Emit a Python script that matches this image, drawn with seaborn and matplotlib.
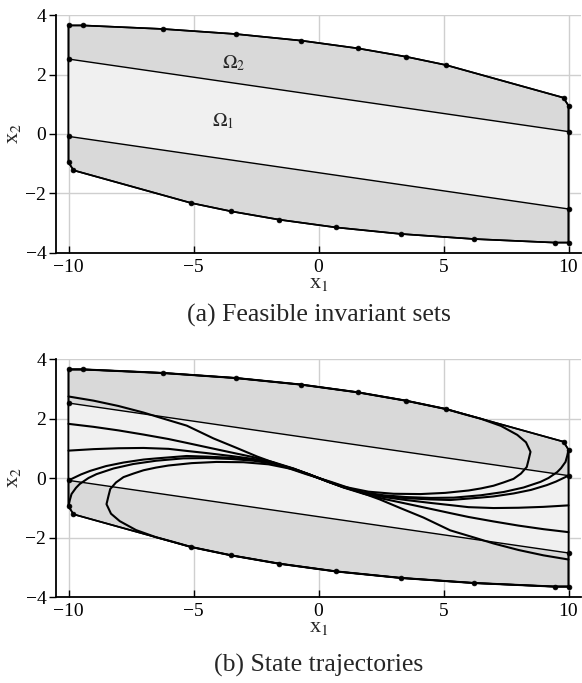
import numpy as np
import pandas as pd
import matplotlib
matplotlib.use("Agg")
import matplotlib.pyplot as plt
import seaborn as sns

sns.set_theme(style="white")
plt.rcParams['font.family'] = ['Liberation Serif', 'DejaVu Serif']
plt.rcParams['mathtext.fontset'] = 'stix'

# ---------------- data ----------------
x_ticks = [-10, -5, 0, 5, 10]
y_ticks = [-4, -2, 0, 2, 4]

# outer invariant set (Omega_2) vertices
outer_x = [-10, -9.44, -6.22, -3.30, -0.70, 1.57, 3.49, 5.09, 9.80, 10,
           10, 9.44, 6.22, 3.30, 0.70, -1.57, -3.49, -5.09, -9.80, -10]
outer_y = [3.65, 3.65, 3.53, 3.36, 3.14, 2.88, 2.60, 2.32, 1.22, 0.95,
           -3.65, -3.65, -3.53, -3.36, -3.14, -2.88, -2.60, -2.32, -1.22, -0.95]

# inner invariant set (Omega_1) vertices
inner_x = [-10, 10, 10, -10]
inner_y = [2.52, 0.08, -2.52, -0.08]

# state trajectories (left starts)
trajA_x = [-10, -9, -8, -7, -6.3, -5.27, -4.2, -3.3, -2.45, -1.8, -1.1, -0.5, 0]
trajA_y = [2.74, 2.60, 2.42, 2.20, 2.02, 1.76, 1.33, 1.02, 0.72, 0.52, 0.30, 0.13, 0.0]
trajB_x = [-10, -9, -8, -7, -6, -5.27, -4.5, -3.5, -2.6, -1.8, -1.0, -0.4, 0]
trajB_y = [1.82, 1.72, 1.60, 1.46, 1.31, 1.18, 1.04, 0.86, 0.70, 0.53, 0.32, 0.13, 0.0]
trajC_x = [-10, -9, -8, -7, -6, -5.27, -4.5, -3.5, -2.6, -1.8, -1.0, -0.4, 0]
trajC_y = [0.92, 0.97, 1.00, 1.01, 0.98, 0.91, 0.84, 0.74, 0.64, 0.51, 0.31, 0.13, 0.0]
trajD_x = [-10, -9.5, -9.13, -8.5, -7.8, -7, -6.47, -5.27, -4.5, -3.5, -2.6, -1.8, -1.0, -0.4, 0]
trajD_y = [-0.08, 0.12, 0.24, 0.40, 0.52, 0.62, 0.66, 0.74, 0.72, 0.68, 0.61, 0.50, 0.31, 0.13, 0.0]
trajE_x = [-10, -9.95, -9.88, -9.7, -9.55, -9.2, -8.88, -8.2, -7.41, -6.5, -5.41, -4.5, -3.5,
           -2.6, -1.8, -1.0, -0.4, 0]
trajE_y = [-0.95, -0.75, -0.54, -0.33, -0.20, 0.0, 0.13, 0.32, 0.47, 0.58, 0.66, 0.67, 0.64,
           0.58, 0.48, 0.30, 0.13, 0.0]
trajF_x = [10, 9.44, 6.22, 3.30, 0.70, -1.57, -3.49, -5.09, -5.8, -6.5, -7.3, -7.95, -8.3,
           -8.48, -8.4, -8.33, -8.1, -7.8, -7.4, -7.0, -6.5, -6.0, -5.07, -4.08, -3.0, -2.0,
           -1.0, -0.4, 0]
trajF_y = [-3.65, -3.65, -3.53, -3.36, -3.14, -2.88, -2.60, -2.32, -2.15, -1.99, -1.75, -1.45,
           -1.2, -0.88, -0.6, -0.37, -0.15, 0.03, 0.15, 0.26, 0.35, 0.42, 0.50, 0.54, 0.53, 0.46,
           0.29, 0.12, 0.0]

# state trajectories (right starts)
trajA2_x = [10, 9, 8, 7, 6.3, 5.27, 4.2, 3.3, 2.45, 1.8, 1.1, 0.5, 0]
trajA2_y = [-2.74, -2.60, -2.42, -2.20, -2.02, -1.76, -1.33, -1.02, -0.72, -0.52, -0.30, -0.13, 0.0]
trajB2_x = [10, 9, 8, 7, 6, 5.27, 4.5, 3.5, 2.6, 1.8, 1.0, 0.4, 0]
trajB2_y = [-1.82, -1.72, -1.60, -1.46, -1.31, -1.18, -1.04, -0.86, -0.70, -0.53, -0.32, -0.13, 0.0]
trajC2_x = [10, 9, 8, 7, 6, 5.27, 4.5, 3.5, 2.6, 1.8, 1.0, 0.4, 0]
trajC2_y = [-0.92, -0.97, -1.00, -1.01, -0.98, -0.91, -0.84, -0.74, -0.64, -0.51, -0.31, -0.13, 0.0]
trajD2_x = [10, 9.5, 9.13, 8.5, 7.8, 7, 6.47, 5.27, 4.5, 3.5, 2.6, 1.8, 1.0, 0.4, 0]
trajD2_y = [0.08, -0.12, -0.24, -0.40, -0.52, -0.62, -0.66, -0.74, -0.72, -0.68, -0.61, -0.50, -0.31, -0.13, 0.0]
trajE2_x = [10, 9.95, 9.88, 9.7, 9.55, 9.2, 8.88, 8.2, 7.41, 6.5, 5.41, 4.5, 3.5,
            2.6, 1.8, 1.0, 0.4, 0]
trajE2_y = [0.95, 0.75, 0.54, 0.33, 0.20, 0.0, -0.13, -0.32, -0.47, -0.58, -0.66, -0.67, -0.64,
            -0.58, -0.48, -0.30, -0.13, 0.0]
trajF2_x = [-10, -9.44, -6.22, -3.30, -0.70, 1.57, 3.49, 5.09, 5.8, 6.5, 7.3, 7.95, 8.3,
            8.48, 8.4, 8.33, 8.1, 7.8, 7.4, 7.0, 6.5, 6.0, 5.07, 4.08, 3.0, 2.0,
            1.0, 0.4, 0]
trajF2_y = [3.65, 3.65, 3.53, 3.36, 3.14, 2.88, 2.60, 2.32, 2.15, 1.99, 1.75, 1.45,
            1.2, 0.88, 0.6, 0.37, 0.15, -0.03, -0.15, -0.26, -0.35, -0.42, -0.50, -0.54, -0.53, -0.46,
            -0.29, -0.12, 0.0]

captions = ["(a) Feasible invariant sets", "(b) State trajectories"]

# ---------------- figure ----------------
W, H = 582, 683
fig = plt.figure(figsize=(W / 100, H / 100), dpi=100)
left = 56 / W
width = 525 / W
ax_top = fig.add_axes([left, 1 - 253 / H, width, 238 / H])
ax_bot = fig.add_axes([left, 1 - 597 / H, width, 238 / H])

outer_col = '#d9d9d9'
inner_col = '#f0f0f0'

dots_x = outer_x + inner_x
dots_y = outer_y + inner_y

trajs = [(trajA_x, trajA_y), (trajB_x, trajB_y), (trajC_x, trajC_y), (trajD_x, trajD_y),
         (trajE_x, trajE_y), (trajF_x, trajF_y),
         (trajA2_x, trajA2_y), (trajB2_x, trajB2_y), (trajC2_x, trajC2_y), (trajD2_x, trajD2_y),
         (trajE2_x, trajE2_y), (trajF2_x, trajF2_y)]
rows = []
for i, (tx, ty) in enumerate(trajs):
    for a, b in zip(tx, ty):
        rows.append((i, a, b))
traj_df = pd.DataFrame(rows, columns=['traj', 'x1', 'x2'])


def draw_sets(ax):
    ax.set_axisbelow(True)
    ax.grid(True, color='#cfcfcf', linewidth=1.0, zorder=0)
    ax.fill(outer_x, outer_y, facecolor=outer_col, edgecolor='black', linewidth=1.2, zorder=1)
    ax.fill(inner_x, inner_y, facecolor=inner_col, edgecolor='none', zorder=2)
    # Omega_1 boundary lines
    sns.lineplot(x=inner_x[:2], y=inner_y[:2], ax=ax, color='black', linewidth=1.0,
                 sort=False, estimator=None, zorder=3)
    sns.lineplot(x=inner_x[2:], y=inner_y[2:], ax=ax, color='black', linewidth=1.0,
                 sort=False, estimator=None, zorder=3)
    # outer polygon outline redraw on top
    ox = outer_x + [outer_x[0]]
    oy = outer_y + [outer_y[0]]
    sns.lineplot(x=ox, y=oy, ax=ax, color='black', linewidth=1.2, sort=False,
                 estimator=None, zorder=4)


def style_axes(ax, caption, cap_off):
    ax.set_xlim(-10.5, 10.5)
    ax.set_ylim(-4, 4)
    ax.set_xticks(x_ticks)
    ax.set_yticks(y_ticks)
    for s in ['top', 'right']:
        ax.spines[s].set_visible(False)
    for s in ['left', 'bottom']:
        ax.spines[s].set_color('black')
        ax.spines[s].set_linewidth(1.3)
    ax.tick_params(axis='y', direction='out', length=5, width=1, labelsize=14, pad=2,
                   colors='black', left=True)
    ax.tick_params(axis='x', direction='in', length=5, width=1, labelsize=14, pad=4,
                   colors='black', bottom=True)
    ax.set_xlabel('x$_1$', fontsize=16, labelpad=-1)
    ax.set_ylabel('x$_2$', fontsize=16, labelpad=2)
    ax.text(0.5, cap_off, caption, transform=ax.transAxes, ha='center', va='top',
            fontsize=18.5)


# top panel
draw_sets(ax_top)
sns.scatterplot(x=dots_x, y=dots_y, ax=ax_top, color='black', s=12, edgecolor='black',
                linewidth=0.5, zorder=6)
ax_top.text(-3.88, 2.21, r'$\Omega_2$', fontsize=14, ha='left', va='baseline', zorder=7)
ax_top.text(-4.28, 0.27, r'$\Omega_1$', fontsize=14, ha='left', va='baseline', zorder=7)
style_axes(ax_top, captions[0], -0.215)

# bottom panel
draw_sets(ax_bot)
sns.lineplot(data=traj_df, x='x1', y='x2', units='traj', estimator=None, sort=False,
             ax=ax_bot, color='black', linewidth=1.5, zorder=5)
sns.scatterplot(x=dots_x, y=dots_y, ax=ax_bot, color='black', s=12, edgecolor='black',
                linewidth=0.5, zorder=6)
style_axes(ax_bot, captions[1], -0.24)

fig.savefig('out.png', dpi=100)
